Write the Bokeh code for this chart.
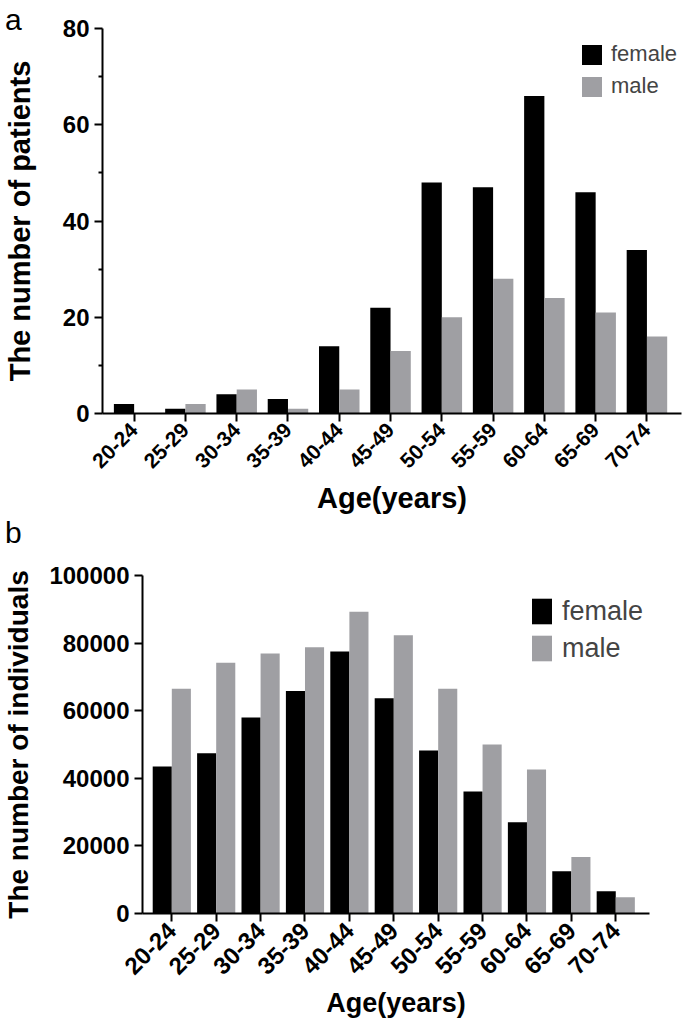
from bokeh.plotting import figure
from bokeh.models import (ColumnDataSource, Range1d, FixedTicker, NumeralTickFormatter, Div)
from bokeh.transform import dodge
from bokeh.embed import file_html
from bokeh.resources import INLINE
import math

# ---------------- data ----------------
age_groups = ["20-24", "25-29", "30-34", "35-39", "40-44", "45-49",
              "50-54", "55-59", "60-64", "65-69", "70-74"]
patients_female = [2, 1, 4, 3, 14, 22, 48, 47, 66, 46, 34]
patients_male = [0, 2, 5, 1, 5, 13, 20, 28, 24, 21, 16]
individuals_female = [43500, 47400, 58000, 65800, 77500, 63700, 48200, 36100, 27000, 12500, 6600]
individuals_male = [66500, 74200, 76900, 78800, 89300, 82300, 66500, 50000, 42600, 16700, 4800]
patients_ticks = [0, 20, 40, 60, 80]
patients_minor = [10, 30, 50, 70]
individuals_ticks = [0, 20000, 40000, 60000, 80000, 100000]

FONT = "Liberation Sans"
BLACK = "#000000"
GREY = "#9f9fa3"

idx = list(range(len(age_groups)))
overrides = {i: g for i, g in zip(idx, age_groups)}


def style_axes(p, xlab_size, ylab_size, xtitle_size, ytitle_size, xstand, ystand):
    p.outline_line_color = None
    p.xgrid.visible = False
    p.ygrid.visible = False
    for ax in (p.xaxis[0], p.yaxis[0]):
        ax.axis_line_width = 2
        ax.axis_line_color = "black"
        ax.major_tick_line_width = 2
        ax.major_tick_line_color = "black"
        ax.minor_tick_line_width = 2
        ax.major_tick_out = 8
        ax.major_tick_in = 0
        ax.minor_tick_in = 0
        ax.major_label_text_font = FONT
        ax.major_label_text_font_style = "bold"
        ax.major_label_text_color = "black"
        ax.axis_label_text_font = FONT
        ax.axis_label_text_font_style = "bold"
        ax.axis_label_text_color = "black"
        ax.major_label_standoff = 5
    p.xaxis[0].major_label_text_font_size = f"{xlab_size}px"
    p.yaxis[0].major_label_text_font_size = f"{ylab_size}px"
    p.xaxis[0].axis_label_text_font_size = f"{xtitle_size}px"
    p.yaxis[0].axis_label_text_font_size = f"{ytitle_size}px"
    p.xaxis[0].axis_label_standoff = xstand
    p.yaxis[0].axis_label_standoff = ystand
    p.xaxis[0].ticker = FixedTicker(ticks=idx)
    p.xaxis[0].major_label_overrides = overrides
    p.xaxis[0].major_label_orientation = math.pi / 4
    p.xaxis[0].minor_tick_line_color = None


def style_legend(lg, loc, gw, gh, standoff, spacing, size):
    lg.location = loc
    lg.glyph_width = gw
    lg.glyph_height = gh
    lg.label_standoff = standoff
    lg.spacing = spacing
    lg.padding = 0
    lg.margin = 0
    lg.border_line_color = None
    lg.background_fill_alpha = 0
    lg.label_text_font = FONT
    lg.label_text_font_size = f"{size}px"
    lg.label_height = gh


def panel_letter(letter, top):
    return Div(text=letter, width=30, height=30,
               styles={"position": "absolute", "left": "0px", "top": f"{top}px",
                       "z-index": "10", "font-family": FONT, "font-size": "30px",
                       "line-height": "30px", "color": "black"})


# ---------------- panel a ----------------
src_a = ColumnDataSource(dict(x=idx, female=patients_female, male=patients_male))
pa = figure(width=685, height=525, output_backend="svg", toolbar_location=None,
            x_range=Range1d(-0.617, 10.674), y_range=Range1d(0, 80),
            min_border_left=95, min_border_right=4, min_border_top=28, min_border_bottom=112)
bw_a = 0.395
pa.vbar(x=dodge("x", -bw_a / 2, range=pa.x_range), top="female", width=bw_a, source=src_a,
        fill_color=BLACK, line_color=None, legend_label="female")
pa.vbar(x=dodge("x", bw_a / 2, range=pa.x_range), top="male", width=bw_a, source=src_a,
        fill_color=GREY, line_color=None, legend_label="male")
style_axes(pa, 21, 24, 29, 29, 5, 24)
pa.xaxis[0].axis_label = "Age(years)"
pa.yaxis[0].axis_label = "The number of patients"
pa.yaxis[0].ticker = FixedTicker(ticks=patients_ticks, minor_ticks=patients_minor)
pa.yaxis[0].minor_tick_out = 4
pa.yaxis[0].minor_tick_line_color = "black"
style_legend(pa.legend[0], (477, 314), 25, 25, 7, 6, 22)

# ---------------- panel b ----------------
src_b = ColumnDataSource(dict(x=idx, female=individuals_female, male=individuals_male))
pb = figure(width=685, height=497, output_backend="svg", toolbar_location=None,
            x_range=Range1d(-0.66, 10.76), y_range=Range1d(0, 100000),
            min_border_left=137, min_border_right=36, min_border_top=50, min_border_bottom=109)
bw_b = 0.43
pb.vbar(x=dodge("x", -bw_b / 2, range=pb.x_range), top="female", width=bw_b, source=src_b,
        fill_color=BLACK, line_color=None, legend_label="female")
pb.vbar(x=dodge("x", bw_b / 2, range=pb.x_range), top="male", width=bw_b, source=src_b,
        fill_color=GREY, line_color=None, legend_label="male")
style_axes(pb, 24, 24, 27, 28, 3, 12)
pb.xaxis[0].axis_label = "Age(years)"
pb.yaxis[0].axis_label = "The number of individuals"
pb.yaxis[0].ticker = FixedTicker(ticks=individuals_ticks, minor_ticks=[])
pb.yaxis[0].formatter = NumeralTickFormatter(format="0")
pb.yaxis[0].minor_tick_line_color = None
style_legend(pb.legend[0], (387, 249), 25, 32, 8, 5, 27)

div_a = panel_letter("a", 0)
div_b = panel_letter("b", 513)

open("out.html", "w").write(file_html([pa, pb, div_a, div_b], INLINE))
